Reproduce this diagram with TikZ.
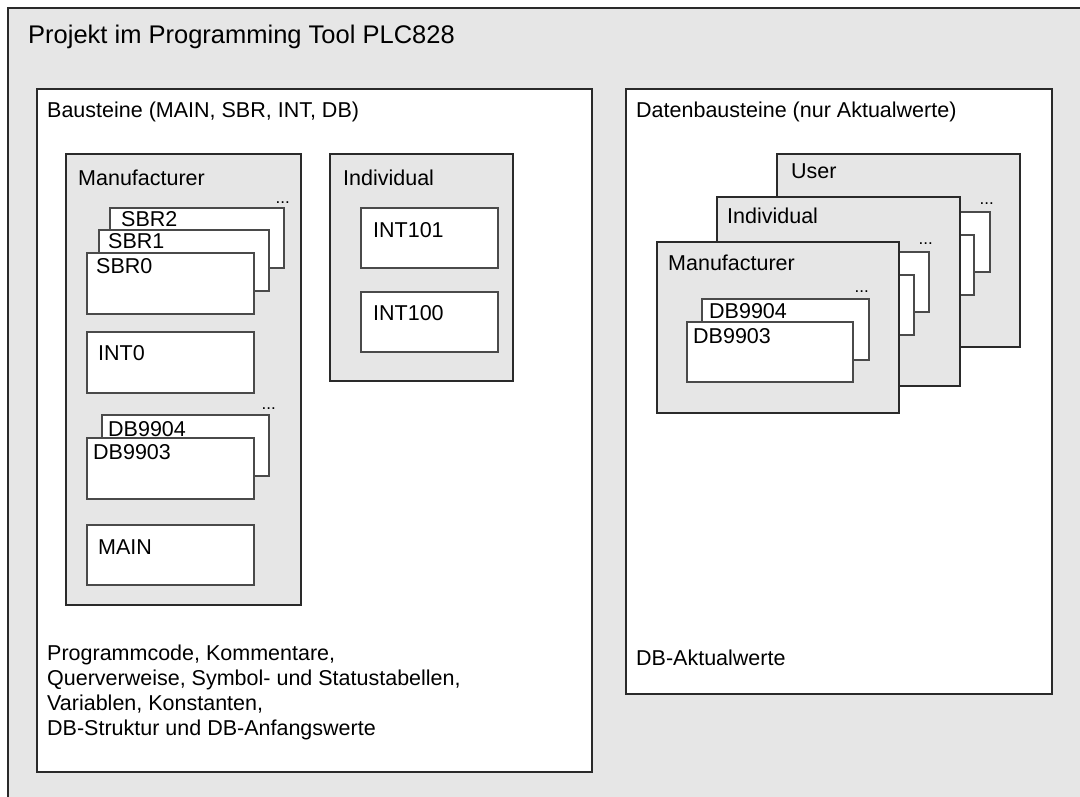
\documentclass[tikz,border=0pt]{standalone}
\usepackage{fontspec}
\setmainfont{Liberation Sans}
\definecolor{bg}{HTML}{E6E6E6}
\definecolor{dark}{HTML}{2A2A2A}
\definecolor{itemline}{HTML}{4A4A4A}
\begin{document}
\begin{tikzpicture}[x=1pt,y=-1pt,
  box/.style={anchor=north west, inner sep=0pt, outer sep=0pt},
  outerbox/.style={box, draw=dark, line width=2pt, fill=bg},
  panel/.style={box, draw=dark, line width=2pt, fill=white},
  group/.style={box, draw=dark, line width=2pt, fill=bg},
  item/.style={box, draw=itemline, line width=1.3pt, fill=white},
  lbl/.style={anchor=base west, inner sep=0pt, font=\fontsize{21.5}{25}\selectfont},
  ttl/.style={anchor=base west, inner sep=0pt, font=\fontsize{25.5}{30}\selectfont},
  dots/.style={anchor=base east, inner sep=0pt, font=\fontsize{17}{20}\selectfont}
]
\useasboundingbox (0,0) rectangle (1080,796);
\clip (0,0) rectangle (1080,796);
\fill[white] (0,0) rectangle (1080,796);

% outer frame
\node[outerbox, minimum width=1100pt, minimum height=820pt] (outer) at (8,8) {};
\node[ttl] (title) at (28,43) {Projekt im Programming Tool PLC828};

% Bausteine panel
\node[panel, minimum width=555pt, minimum height=683pt] (baust) at (37,89) {};
\node[lbl] (baustlbl) at (47,117) {Bausteine (MAIN, SBR, INT, DB)};

% Manufacturer (left)
\node[group, minimum width=235pt, minimum height=451pt] (mfrL) at (66,154) {};
\node[lbl] (mfrLlbl) at (78,185) {Manufacturer};
\node[dots] (dotsSBR) at (290,203) {...};
\node[item, minimum width=174pt, minimum height=60pt] (sbr2) at (110,208) {};
\node[lbl] (sbr2lbl) at (121,226) {SBR2};
\node[item, minimum width=170pt, minimum height=61pt] (sbr1) at (99,230) {};
\node[lbl] (sbr1lbl) at (108,248) {SBR1};
\node[item, minimum width=167pt, minimum height=61pt] (sbr0) at (87,253) {};
\node[lbl] (sbr0lbl) at (96,273) {SBR0};

\node[item, minimum width=167pt, minimum height=61pt] (int0) at (87,332) {};
\node[lbl] (int0lbl) at (98,360) {INT0};

\node[dots] (dotsDBL) at (276,409) {...};
\node[item, minimum width=167pt, minimum height=61pt] (db9904L) at (102,415) {};
\node[lbl] (db9904Llbl) at (108,436) {DB9904};
\node[item, minimum width=167pt, minimum height=61pt] (db9903L) at (87,438) {};
\node[lbl] (db9903Llbl) at (93,459) {DB9903};

\node[item, minimum width=167pt, minimum height=60pt] (main) at (87,525) {};
\node[lbl] (mainlbl) at (98,554) {MAIN};

% Individual (left)
\node[group, minimum width=183pt, minimum height=227pt] (indL) at (330,154) {};
\node[lbl] (indLlbl) at (343,185) {Individual};
\node[item, minimum width=137pt, minimum height=60pt] (int101) at (361,208) {};
\node[lbl] (int101lbl) at (373,237) {INT101};
\node[item, minimum width=137pt, minimum height=60pt] (int100) at (361,292) {};
\node[lbl] (int100lbl) at (373,320) {INT100};

% bottom text (base anchor = last line)
\node[lbl, align=left] (desc) at (47,735)
  {Programmcode, Kommentare,\\Querverweise, Symbol- und Statustabellen,\\Variablen, Konstanten,\\DB-Struktur und DB-Anfangswerte};

% Datenbausteine panel
\node[panel, minimum width=426pt, minimum height=605pt] (daten) at (626,89) {};
\node[lbl] (datenlbl) at (636,117) {Datenbausteine (nur Aktualwerte)};
\node[lbl] (aktlbl) at (636,665) {DB-Aktualwerte};

% User
\node[group, minimum width=243pt, minimum height=193pt] (user) at (777,154) {};
\node[lbl] (userlbl) at (791,178) {User};
\node[dots] (dotsU) at (994,204) {...};
\node[item, minimum width=167pt, minimum height=60pt] (userA) at (823,212) {};
\node[item, minimum width=167pt, minimum height=60pt] (userB) at (807,235) {};

% Individual (right)
\node[group, minimum width=243pt, minimum height=189pt] (indR) at (717,197) {};
\node[lbl] (indRlbl) at (727,223) {Individual};
\node[dots] (dotsI) at (933,244) {...};
\node[item, minimum width=167pt, minimum height=60pt] (indA) at (762,252) {};
\node[item, minimum width=167pt, minimum height=60pt] (indB) at (747,275) {};

% Manufacturer (right)
\node[group, minimum width=242pt, minimum height=171pt] (mfrR) at (657,242) {};
\node[lbl] (mfrRlbl) at (668,270) {Manufacturer};
\node[dots] (dotsM) at (869,292) {...};
\node[item, minimum width=167pt, minimum height=61pt] (db9904R) at (702,299) {};
\node[lbl] (db9904Rlbl) at (709,318) {DB9904};
\node[item, minimum width=166pt, minimum height=60pt] (db9903R) at (687,322) {};
\node[lbl] (db9903Rlbl) at (693,343) {DB9903};
\end{tikzpicture}
\end{document}
